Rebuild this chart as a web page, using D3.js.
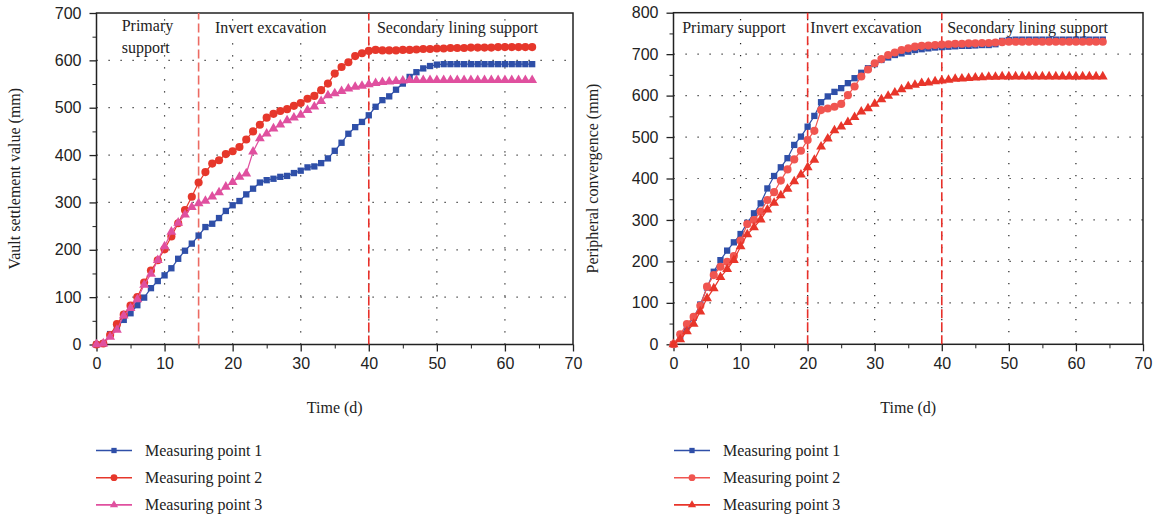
<!DOCTYPE html>
<html lang="en">
<head>
<meta charset="utf-8" />
<title>Vault settlement and peripheral convergence</title>
<style>
  body { margin: 0; background: #fff; }
  svg { display: block; font-family: "Liberation Serif", "DejaVu Serif", serif; }
  .tick text { font-size: 16px; fill: #222; }
  .tick line, .domain { stroke: #222; }
  .grid line { stroke: #222; stroke-width: 1.2; stroke-dasharray: 1.2 10.8; }
</style>
</head>
<body>
<svg id="chart" width="1153" height="515"></svg>
<script src="https://d3js.org/d3.v7.min.js"></script>
<script>
// time in days
const days = [0,1,2,3,4,5,6,7,8,9,10,11,12,13,14,15,16,17,18,19,20,21,22,23,24,25,26,27,28,29,30,31,32,
  33,34,35,36,37,38,39,40,41,42,43,44,45,46,47,48,49,50,51,52,53,54,55,56,57,58,59,60,61,62,63,64];

// vault settlement (mm)
const settle1 = [0,2,22,36,52,66,83,99,119,134,146,161,181,198,213,230,248,255,267,282,294,303,317,329,342,347,350,354,356,362,367,374,376,
  383,393,409,426,445,459,470,484,502,516,524,538,551,565,575,583,588,591,592,592,592,592,592,592,592,592,592,592,592,592,592,592];
const settle2 = [0,2,20,43,63,82,100,131,156,178,201,228,256,284,312,342,364,382,389,402,408,417,433,450,464,479,487,493,497,504,510,519,525,
  537,551,572,586,596,609,615,620,622,621,621,621,622,622,623,624,624,625,625,626,626,626,627,627,627,627,628,628,628,628,628,628];
const settle3 = [0,2,16,31,61,77,95,126,149,178,207,238,257,274,290,298,303,312,321,333,343,354,361,407,435,445,456,464,473,479,485,495,502,
  514,526,530,535,540,544,546,549,552,554,555,556,557,558,558,558,558,558,558,558,558,558,558,558,558,558,558,558,558,558,558,558];

// peripheral convergence (mm)
const conv1 = [0,20,43,64,96,137,175,203,226,246,266,293,316,340,376,406,427,449,481,501,525,551,584,598,609,618,630,642,655,666,676,686,692,
  698,702,706,710,712,714,716,717,718,719,720,720,721,722,722,724,732,734,735,735,735,735,735,735,735,735,735,735,735,735,735,735];
const conv2 = [0,24,49,66,93,139,167,187,199,213,250,290,300,320,348,367,395,422,446,467,493,515,565,569,573,580,601,622,646,663,678,688,698,
  704,710,714,718,720,721,722,723,724,725,725,726,726,727,727,728,729,730,730,730,730,730,730,730,730,730,730,730,730,730,730,730];
const conv3 = [0,12,31,49,79,111,135,162,181,203,236,265,282,301,325,341,359,375,393,409,427,445,477,496,516,525,536,548,561,569,580,591,599,
  607,615,622,626,630,631,634,636,638,640,641,642,643,644,645,645,646,646,646,646,646,646,646,646,646,646,646,646,646,646,646,646];

const seriesNames = ["Measuring point 1", "Measuring point 2", "Measuring point 3"];
const xTicks = [0,10,20,30,40,50,60,70];
const leftYTicks = [0,100,200,300,400,500,600,700];
const rightYTicks = [0,100,200,300,400,500,600,700,800];

const svg = d3.select("#chart");

function drawPanel(p) {
  const x = d3.scaleLinear().domain([0, 70]).range([p.x0, p.x1]);
  const y = d3.scaleLinear().domain([0, p.yMax]).range([p.y0, p.y1]);
  const g = svg.append("g");

  // dotted grid
  const grid = g.append("g").attr("class", "grid");
  grid.selectAll(".gh").data(p.yTicks.filter(v => v > 0 && v < p.yMax)).join("line")
    .attr("x1", p.x0).attr("x2", p.x1).attr("y1", d => y(d)).attr("y2", d => y(d));
  grid.selectAll(".gv").data(xTicks.filter(v => v > 0 && v < 70)).join("line")
    .attr("x1", d => x(d)).attr("x2", d => x(d)).attr("y1", p.y0).attr("y2", p.y1);

  // minor ticks
  const xMinor = xTicks.slice(0, -1).map(v => v + 5);
  const yMinor = p.yTicks.slice(0, -1).map(v => v + 50);
  g.append("g").attr("transform", `translate(0,${p.y0})`)
    .call(d3.axisBottom(x).tickValues(xMinor).tickSize(4).tickFormat(""))
    .call(a => a.select(".domain").remove());
  g.append("g").attr("transform", `translate(${p.x0},0)`)
    .call(d3.axisLeft(y).tickValues(yMinor).tickSize(4).tickFormat(""))
    .call(a => a.select(".domain").remove());

  // major axes
  g.append("g").attr("transform", `translate(0,${p.y0})`)
    .call(d3.axisBottom(x).tickValues(xTicks).tickSize(7).tickSizeOuter(0).tickPadding(6))
    .call(a => a.select(".domain").remove())
    .selectAll("line").attr("stroke-width", 1.3);
  g.append("g").attr("transform", `translate(${p.x0},0)`)
    .call(d3.axisLeft(y).tickValues(p.yTicks).tickSize(7).tickSizeOuter(0).tickPadding(8))
    .call(a => a.select(".domain").remove())
    .selectAll("line").attr("stroke-width", 1.3);

  // frame
  g.append("rect").attr("x", p.x0).attr("y", p.y1)
    .attr("width", p.x1 - p.x0).attr("height", p.y0 - p.y1)
    .attr("fill", "none").attr("stroke", "#222").attr("stroke-width", 1.5);

  // stage boundaries
  p.stages.forEach(s => {
    g.append("line").attr("x1", x(s.day)).attr("x2", x(s.day))
      .attr("y1", p.y0).attr("y2", p.y1)
      .attr("stroke", s.color).attr("stroke-width", 1.6).attr("stroke-dasharray", "9 4");
  });

  // stage labels
  p.labels.forEach(l => {
    const t = g.append("text").attr("x", x(l.day)).attr("y", l.y)
      .attr("font-size", 16).attr("fill", "#222");
    l.lines.forEach((ln, i) => t.append("tspan").attr("x", x(l.day)).attr("dy", i ? 22 : 0).text(ln));
  });

  // series
  const line = d3.line().x((d, i) => x(days[i])).y(d => y(d));
  p.series.forEach(s => {
    g.append("path").datum(s.values).attr("d", line)
      .attr("fill", "none").attr("stroke", s.color).attr("stroke-width", 1.2);
    g.append("g").selectAll("path").data(s.values).join("path")
      .attr("transform", (d, i) => `translate(${x(days[i])},${y(d)})`)
      .attr("d", d3.symbol().type(s.symbol).size(s.size))
      .attr("fill", s.color);
  });

  // axis titles
  g.append("text").attr("x", (p.x0 + p.x1) / 2).attr("y", 413)
    .attr("text-anchor", "middle").attr("font-size", 16).attr("fill", "#222").text("Time (d)");
  g.append("text")
    .attr("transform", `translate(${p.titleX},${(p.y0 + p.y1) / 2}) rotate(-90)`)
    .attr("text-anchor", "middle").attr("font-size", 16).attr("fill", "#222").text(p.yTitle);

  // legend
  const lg = g.append("g");
  p.series.forEach((s, i) => {
    const yy = 450.5 + i * 27.2;
    lg.append("line").attr("x1", p.legX).attr("x2", p.legX + 36).attr("y1", yy).attr("y2", yy)
      .attr("stroke", s.color).attr("stroke-width", 1.6);
    lg.append("path").attr("transform", `translate(${p.legX + 18},${yy})`)
      .attr("d", d3.symbol().type(s.symbol).size(s.size * 0.7)).attr("fill", s.color);
    lg.append("text").attr("x", p.legX + 49).attr("y", yy + 5)
      .attr("font-size", 16).attr("fill", "#222").text(seriesNames[i]);
  });
}

const blue = "#2f4fa8";

drawPanel({
  x0: 96.5, x1: 573, y0: 344.5, y1: 13, yMax: 700, yTicks: leftYTicks,
  titleX: 20, yTitle: "Vault settlement value (mm)", legX: 96,
  stages: [{ day: 15, color: "#ec6b63" }, { day: 40, color: "#e8302a" }],
  labels: [
    { day: 3.7, y: 31, lines: ["Primary", "support"] },
    { day: 17.4, y: 33, lines: ["Invert excavation"] },
    { day: 41.2, y: 33, lines: ["Secondary lining support"] }
  ],
  series: [
    { values: settle1, color: blue, symbol: d3.symbolSquare, size: 40 },
    { values: settle2, color: "#e6372b", symbol: d3.symbolCircle, size: 52 },
    { values: settle3, color: "#e0509f", symbol: d3.symbolTriangle, size: 42 }
  ]
});

drawPanel({
  x0: 673.5, x1: 1143, y0: 344.3, y1: 12.7, yMax: 800, yTicks: rightYTicks,
  titleX: 598, yTitle: "Peripheral convergence (mm)", legX: 674,
  stages: [{ day: 20, color: "#e8302a" }, { day: 40, color: "#e8302a" }],
  labels: [
    { day: 1.3, y: 33, lines: ["Primary support"] },
    { day: 20.4, y: 33, lines: ["Invert excavation"] },
    { day: 40.8, y: 33, lines: ["Secondary lining support"] }
  ],
  series: [
    { values: conv1, color: blue, symbol: d3.symbolSquare, size: 40 },
    { values: conv2, color: "#f05550", symbol: d3.symbolCircle, size: 52 },
    { values: conv3, color: "#e8352a", symbol: d3.symbolTriangle, size: 42 }
  ]
});
</script>
</body>
</html>
